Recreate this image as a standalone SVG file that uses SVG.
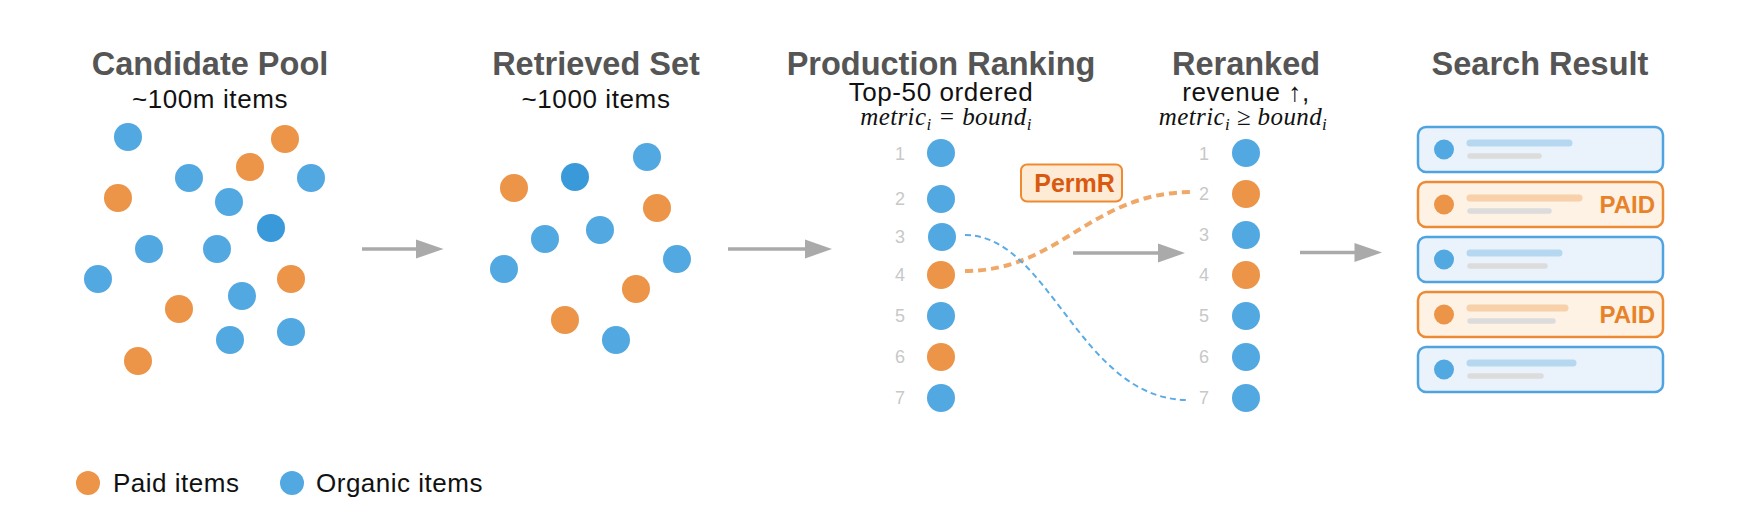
<svg xmlns="http://www.w3.org/2000/svg" width="1744" height="528" viewBox="0 0 1744 528">
<defs>
<style>
.title{font-family:"Liberation Sans",Arial,sans-serif;font-weight:bold;font-size:32.5px;fill:#555;text-anchor:middle}
.sub{font-family:"Liberation Sans",Arial,sans-serif;font-size:26px;letter-spacing:0.6px;fill:#111;text-anchor:middle}
.math{font-family:"Liberation Serif","DejaVu Serif",serif;font-style:italic;font-size:25px;letter-spacing:0.4px;fill:#111;text-anchor:middle}
.num{font-family:"Liberation Sans",Arial,sans-serif;font-size:18px;fill:#c8c8c8;text-anchor:middle}
.leg{font-family:"Liberation Sans",Arial,sans-serif;font-size:26px;letter-spacing:0.5px;fill:#111}
.b{fill:#52a8e0}
.o{fill:#ec9447}
.d{fill:#3a9ad9}
.arrow{stroke:#aaa;stroke-width:3.5;fill:none}
.head{fill:#aaa}
.cardB{fill:#eaf3fb;stroke:#4fa3e0;stroke-width:2.5}
.cardO{fill:#fdf2e3;stroke:#ec8a35;stroke-width:2.5}
.barB{stroke:#b5d8f0;stroke-width:7;stroke-linecap:round}
.barO{stroke:#f8d0aa;stroke-width:7;stroke-linecap:round}
.barG{stroke:#dcdcdc;stroke-width:5.5;stroke-linecap:round}
.paid{font-family:"Liberation Sans",Arial,sans-serif;font-weight:bold;font-size:24px;fill:#e8822a;text-anchor:end}
</style>
</defs>
<rect width="1744" height="528" fill="#fff"/>

<g id="candidate-pool">
<text class="title" x="210" y="75">Candidate Pool</text>
<text class="sub" x="210" y="108">~100m items</text>
<circle class="b" cx="128" cy="137" r="14"/>
<circle class="o" cx="285" cy="139" r="14"/>
<circle class="o" cx="250" cy="167" r="14"/>
<circle class="b" cx="189" cy="178" r="14"/>
<circle class="b" cx="311" cy="178" r="14"/>
<circle class="o" cx="118" cy="198" r="14"/>
<circle class="b" cx="229" cy="202" r="14"/>
<circle class="d" cx="271" cy="228" r="14"/>
<circle class="b" cx="149" cy="249" r="14"/>
<circle class="b" cx="217" cy="249" r="14"/>
<circle class="b" cx="98" cy="279" r="14"/>
<circle class="o" cx="291" cy="279" r="14"/>
<circle class="b" cx="242" cy="296" r="14"/>
<circle class="o" cx="179" cy="309" r="14"/>
<circle class="b" cx="230" cy="340" r="14"/>
<circle class="b" cx="291" cy="332" r="14"/>
<circle class="o" cx="138" cy="361" r="14"/>
</g>

<g id="retrieved-set">
<text class="title" x="596" y="75">Retrieved Set</text>
<text class="sub" x="596" y="108">~1000 items</text>
<circle class="o" cx="514" cy="188" r="14"/>
<circle class="d" cx="575" cy="177" r="14"/>
<circle class="b" cx="647" cy="157" r="14"/>
<circle class="o" cx="657" cy="208" r="14"/>
<circle class="b" cx="545" cy="239" r="14"/>
<circle class="b" cx="600" cy="230" r="14"/>
<circle class="b" cx="504" cy="269" r="14"/>
<circle class="b" cx="677" cy="259" r="14"/>
<circle class="o" cx="636" cy="289" r="14"/>
<circle class="o" cx="565" cy="320" r="14"/>
<circle class="b" cx="616" cy="340" r="14"/>
</g>

<g id="production-ranking">
<text class="title" x="941" y="75">Production Ranking</text>
<text class="sub" x="941" y="101">Top-50 ordered</text>
<text class="math" x="946" y="125">metric<tspan font-size="17" dy="5">i</tspan><tspan dy="-5"> = bound</tspan><tspan font-size="17" dy="5">i</tspan></text>
<text class="num" x="900" y="160">1</text>
<text class="num" x="900" y="205">2</text>
<text class="num" x="900" y="243">3</text>
<text class="num" x="900" y="281">4</text>
<text class="num" x="900" y="322">5</text>
<text class="num" x="900" y="363">6</text>
<text class="num" x="900" y="404">7</text>
<circle class="b" cx="941" cy="153" r="14"/>
<circle class="b" cx="941" cy="199" r="14"/>
<circle class="b" cx="942" cy="237" r="14"/>
<circle class="o" cx="941" cy="275" r="14"/>
<circle class="b" cx="941" cy="316" r="14"/>
<circle class="o" cx="941" cy="357" r="14"/>
<circle class="b" cx="941" cy="398" r="14"/>
</g>

<g id="permr">
<rect x="1021" y="164.5" width="101" height="37" rx="6" fill="#fdebd6" stroke="#f08a30" stroke-width="2"/>
<text x="1074.5" y="192" font-family="Liberation Sans,Arial,sans-serif" font-weight="bold" font-size="25" fill="#d9590f" text-anchor="middle">PermR</text>
</g>

<g id="reranked">
<text class="title" x="1246" y="75">Reranked</text>
<text class="sub" x="1246" y="101">revenue ↑,</text>
<text class="math" x="1243" y="125">metric<tspan font-size="17" dy="5">i</tspan><tspan dy="-5"> ≥ bound</tspan><tspan font-size="17" dy="5">i</tspan></text>
<text class="num" x="1204" y="160">1</text>
<text class="num" x="1204" y="200">2</text>
<text class="num" x="1204" y="241">3</text>
<text class="num" x="1204" y="281">4</text>
<text class="num" x="1204" y="322">5</text>
<text class="num" x="1204" y="363">6</text>
<text class="num" x="1204" y="404">7</text>
<circle class="b" cx="1246" cy="153" r="14"/>
<circle class="o" cx="1246" cy="194" r="14"/>
<circle class="b" cx="1246" cy="235" r="14"/>
<circle class="o" cx="1246" cy="275" r="14"/>
<circle class="b" cx="1246" cy="316" r="14"/>
<circle class="b" cx="1246" cy="357" r="14"/>
<circle class="b" cx="1246" cy="398" r="14"/>
</g>

<g id="search-result">
<text class="title" x="1540" y="75">Search Result</text>
<rect class="cardB" x="1418" y="127" width="245" height="45" rx="8"/>
<circle class="b" cx="1444" cy="149.5" r="10"/>
<line class="barB" x1="1470" y1="143" x2="1569" y2="143"/>
<line class="barG" x1="1470" y1="156" x2="1539" y2="156"/>

<rect class="cardO" x="1418" y="182" width="245" height="45" rx="8"/>
<circle class="o" cx="1444" cy="204.5" r="10"/>
<line class="barO" x1="1470" y1="198" x2="1579" y2="198"/>
<line class="barG" x1="1470" y1="211" x2="1549" y2="211"/>
<text class="paid" x="1655" y="213">PAID</text>

<rect class="cardB" x="1418" y="237" width="245" height="45" rx="8"/>
<circle class="b" cx="1444" cy="259.5" r="10"/>
<line class="barB" x1="1470" y1="253" x2="1559" y2="253"/>
<line class="barG" x1="1470" y1="266" x2="1545" y2="266"/>

<rect class="cardO" x="1418" y="292" width="245" height="45" rx="8"/>
<circle class="o" cx="1444" cy="314.5" r="10"/>
<line class="barO" x1="1470" y1="308" x2="1565" y2="308"/>
<line class="barG" x1="1470" y1="321" x2="1553" y2="321"/>
<text class="paid" x="1655" y="323">PAID</text>

<rect class="cardB" x="1418" y="347" width="245" height="45" rx="8"/>
<circle class="b" cx="1444" cy="369.5" r="10"/>
<line class="barB" x1="1470" y1="363" x2="1573" y2="363"/>
<line class="barG" x1="1470" y1="376" x2="1541" y2="376"/>
</g>

<g id="legend">
<circle class="o" cx="88" cy="483" r="12"/>
<text class="leg" x="113" y="492">Paid items</text>
<circle class="b" cx="292" cy="483" r="12"/>
<text class="leg" x="316" y="492">Organic items</text>
</g>

<g id="connectors">
<line class="arrow" x1="362" y1="249" x2="418" y2="249"/>
<polygon class="head" points="416,239.5 443.5,249 416,258.5"/>
<line class="arrow" x1="728" y1="249" x2="807" y2="249"/>
<polygon class="head" points="805,239.5 832,249 805,258.5"/>
<line class="arrow" x1="1073" y1="253" x2="1160" y2="253"/>
<polygon class="head" points="1158,243.5 1185,253 1158,262.5"/>
<line class="arrow" x1="1300" y1="252.5" x2="1356" y2="252.5"/>
<polygon class="head" points="1354.5,243 1382,252.5 1354.5,262"/>
<path d="M965,271 C1060,271 1090,192 1193,192" fill="none" stroke="#f0a868" stroke-width="4" stroke-dasharray="8,5"/>
<path d="M965,235 C1050,235 1080,400 1188,400" fill="none" stroke="#5aabe6" stroke-width="2" stroke-dasharray="6,4"/>
</g>
</svg>
